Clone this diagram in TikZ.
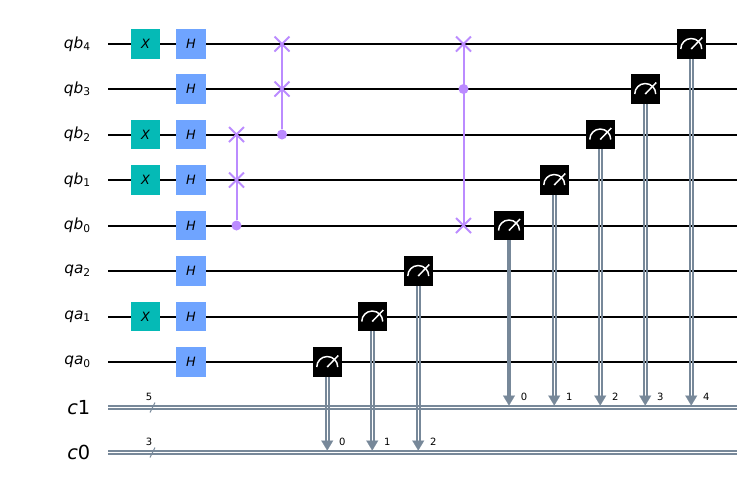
\documentclass[tikz,border=0pt]{standalone}
\usepackage{fontspec}
\setmainfont{DejaVu Sans}
\usetikzlibrary{arrows.meta}
\definecolor{xgate}{HTML}{05BAB6}
\definecolor{hgate}{HTML}{6FA4FF}
\definecolor{swapgate}{HTML}{BB8BFF}
\definecolor{clbit}{HTML}{778899}
\tikzset{
    wire/.style={black, line width=1.5pt},
    clwire/.style={clbit, line width=1.35pt},
    xbox/.style={fill=xgate, minimum size=21.8pt, inner sep=0pt, font=\itshape\fontsize{9.6}{9.6}\selectfont, text=black},
    hbox/.style={fill=hgate, minimum size=22.4pt, inner sep=0pt, font=\itshape\fontsize{9.6}{9.6}\selectfont, text=black},
    mbox/.style={fill=black, minimum size=22pt, inner sep=0pt},
    qlabel/.style={anchor=east, inner sep=0pt, font=\fontsize{11.5}{11.5}\selectfont},
    clabel/.style={anchor=east, inner sep=0pt, font=\fontsize{14.5}{14.5}\selectfont},
    small/.style={font=\fontsize{7.5}{7.5}\selectfont, inner sep=0pt},
    swapline/.style={swapgate, line width=1.5pt},
    ctrl/.style={circle, fill=swapgate, minimum size=7.5pt, inner sep=0pt},
    needle/.style={white, line width=1.1pt},
    measarrow/.style={clbit, line width=0.1pt, -{Triangle[length=7.5pt, width=9pt]}},
}
\newcommand{\swapmark}[1]{\draw[swapline] ([shift={(-7.5,-7.5)}]#1) -- ([shift={(7.5,7.5)}]#1) ([shift={(-7.5,7.5)}]#1) -- ([shift={(7.5,-7.5)}]#1);}
\newcommand{\sbit}[2]{\textit{#1}\raisebox{-0.3ex}{\fontsize{8}{8}\selectfont #2}}
\begin{document}
\begin{tikzpicture}[x=0.75pt, y=-0.75pt]
    \useasboundingbox (0,0) rectangle (747,487);

    % Quantum wires and labels
    \foreach \name/\reg/\idx/\y in {qb4/qb/4/44, qb3/qb/3/89, qb2/qb/2/134.5, qb1/qb/1/180, qb0/qb/0/225.5, qa2/qa/2/271, qa1/qa/1/316.5, qa0/qa/0/362} {
        \coordinate (\name w) at (108,\y);
        \coordinate (\name e) at (737,\y);
        \draw[wire] (\name w) -- (\name e);
        \node[qlabel] (\name l) at (90.5,\y) {\sbit{\reg}{\idx}};
    }

    % Classical wires and labels
    \foreach \name/\reg/\idx/\size/\y in {c1/c/1/5/407.5, c0/c/0/3/452.5} {
        \coordinate (\name w) at (108,\y);
        \coordinate (\name e) at (737,\y);
        \draw[clwire] ([shift={(0,-1.5)}]\name w) -- ([shift={(0,-1.5)}]\name e);
        \draw[clwire] ([shift={(0,1.5)}]\name w) -- ([shift={(0,1.5)}]\name e);
        \coordinate (\name s) at (152.5,\y);
        \draw[clbit, line width=0.8pt] ([shift={(-2.5,5)}]\name s) -- ([shift={(2.5,-5)}]\name s);
        \node[small] (\name n) at (149,\y-10.5) {\size};
        \node[clabel] (\name l) at (90.5,\y) {\textit{\reg}\idx};
    }

    % X and H gates
    \foreach \name in {qb4,qb2,qb1,qa1}
        \node[xbox] (x\name) at (145.5,0 |- \name w) {X};
    \foreach \name in {qb4,qb3,qb2,qb1,qb0,qa2,qa1,qa0}
        \node[hbox] (h\name) at (191,0 |- \name w) {H};

    % Controlled swaps
    \foreach \x/\a/\b/\c/\i in {236.5/qb2/qb1/qb0/a, 282/qb4/qb3/qb2/b} {
        \coordinate (sw1\i) at (\x,0 |- \a w);
        \coordinate (sw2\i) at (\x,0 |- \b w);
        \node[ctrl] (ct\i) at (\x,0 |- \c w) {};
        \draw[swapline] (sw1\i) -- (ct\i);
        \swapmark{sw1\i}
        \swapmark{sw2\i}
    }
    \coordinate (sw1c) at (463.5,0 |- qb4w);
    \coordinate (sw2c) at (463.5,0 |- qb0w);
    \node[ctrl] (ctc) at (463.5,0 |- qb3w) {};
    \draw[swapline] (sw1c) -- (sw2c);
    \swapmark{sw1c}
    \swapmark{sw2c}

    % Measurements
    \foreach \x/\q/\c/\k in {327.25/qa0/c0/0, 372.25/qa1/c0/1, 418.25/qa2/c0/2, 509/qb0/c1/0, 554.25/qb1/c1/1, 600.25/qb2/c1/2, 645.25/qb3/c1/3, 691.25/qb4/c1/4} {
        \node[mbox] (m\q) at (\x,0 |- \q w) {};
        \coordinate (t\q) at (\x,0 |- \c w);
        \coordinate (e\q) at ([shift={(0,-2)}]t\q);
        \draw[clwire] ([shift={(-1.5,0)}]m\q.south) -- ([shift={(-1.5,-9)}]e\q);
        \draw[clwire] ([shift={(1.5,0)}]m\q.south) -- ([shift={(1.5,-9)}]e\q);
        \draw[measarrow] ([shift={(0,-10)}]e\q) -- (e\q);
        \node[small] (k\q) at ([shift={(15,-10.8)}]t\q) {\k};
        \draw[needle] ([shift={(-10.5,5)}]m\q.center) arc[start angle=-180, end angle=0, radius=10.5];
        \draw[needle] ([shift={(0,5)}]m\q.center) -- ([shift={(11,-6.5)}]m\q.center);
    }
    \draw[clbit, line width=3.2pt] (mqb0.south) -- ([shift={(0,-9)}]eqb0);
\end{tikzpicture}
\end{document}
